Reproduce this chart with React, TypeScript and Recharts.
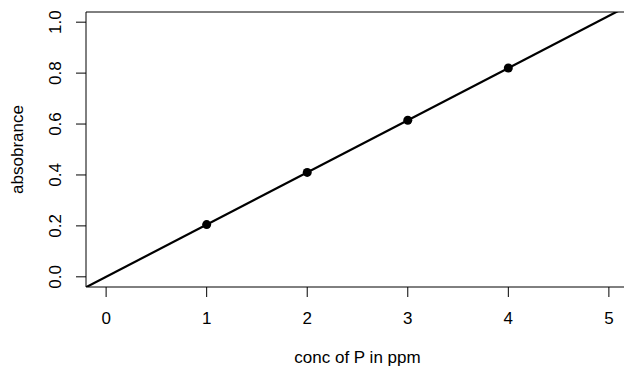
import * as React from 'react'
import { ScatterChart, Scatter, XAxis, YAxis, ReferenceArea } from 'recharts'

// calibration standards
const concentration = [1, 2, 3, 4]
const absorbance = [0.205, 0.41, 0.615, 0.82]

// fitted calibration line
const fitIntercept = 0
const fitSlope = 0.205

const xTicks = [0, 1, 2, 3, 4, 5]
const yTicks = [0, 0.2, 0.4, 0.6, 0.8, 1.0]
const xDomain: [number, number] = [-0.2, 5.2]
const yDomain: [number, number] = [-0.04, 1.04]

const FONT = "'Liberation Sans', Arial, Helvetica, sans-serif"
const FONT_SIZE = 17

const points = concentration.map((x, i) => ({ x, y: absorbance[i] }))
const fitLine = xDomain.map((x) => ({ x, y: fitIntercept + fitSlope * x }))

const XTick = (props: any) => {
  const { x, y, payload } = props
  return (
    <text x={x} y={y + 27} textAnchor="middle" fontFamily={FONT} fontSize={FONT_SIZE} fill="#000">
      {payload.value}
    </text>
  )
}

const YTick = (props: any) => {
  const { x, y, payload } = props
  const tx = x - 15
  return (
    <text
      x={tx}
      y={y}
      transform={`rotate(-90 ${tx} ${y})`}
      textAnchor="middle"
      fontFamily={FONT}
      fontSize={FONT_SIZE}
      fill="#000"
    >
      {Number(payload.value).toFixed(1)}
    </text>
  )
}

const Dot = (props: any) => <circle cx={props.cx} cy={props.cy} r={4.5} fill="#000" />
const NoDot = () => <g />

export default function App() {
  return (
    <div
      style={{
        position: 'absolute',
        left: 0,
        top: 0,
        width: 624,
        height: 369,
        overflow: 'hidden',
        background: '#fff',
      }}
    >
      <ScatterChart width={640} height={369} margin={{ top: 12, right: 11, bottom: 0, left: 0 }}>
        <XAxis
          type="number"
          dataKey="x"
          domain={xDomain}
          ticks={xTicks}
          allowDataOverflow
          axisLine={false}
          tickLine={{ stroke: '#000' }}
          tickSize={10}
          tickMargin={0}
          height={82}
          tick={<XTick />}
          interval={0}
          label={{
            content: () => (
              <text x={357.5} y={363} textAnchor="middle" fontFamily={FONT} fontSize={FONT_SIZE} fill="#000">
                conc of P in ppm
              </text>
            ),
          }}
        />
        <YAxis
          type="number"
          dataKey="y"
          domain={yDomain}
          ticks={yTicks}
          allowDataOverflow
          axisLine={false}
          tickLine={{ stroke: '#000' }}
          tickSize={10}
          tickMargin={0}
          width={86}
          tick={<YTick />}
          interval={0}
          label={{
            content: () => (
              <text
                x={23}
                y={149.5}
                transform="rotate(-90 23 149.5)"
                textAnchor="middle"
                fontFamily={FONT}
                fontSize={FONT_SIZE}
                fill="#000"
              >
                absobrance
              </text>
            ),
          }}
        />
        <ReferenceArea
          x1={xDomain[0]}
          x2={xDomain[1]}
          y1={yDomain[0]}
          y2={yDomain[1]}
          fill="none"
          stroke="#000"
          strokeWidth={1}
          ifOverflow="visible"
        />
        <Scatter
          data={fitLine}
          line={{ stroke: '#000', strokeWidth: 2.2 }}
          shape={<NoDot />}
          isAnimationActive={false}
        />
        <Scatter data={points} shape={<Dot />} isAnimationActive={false} />
      </ScatterChart>
    </div>
  )
}
